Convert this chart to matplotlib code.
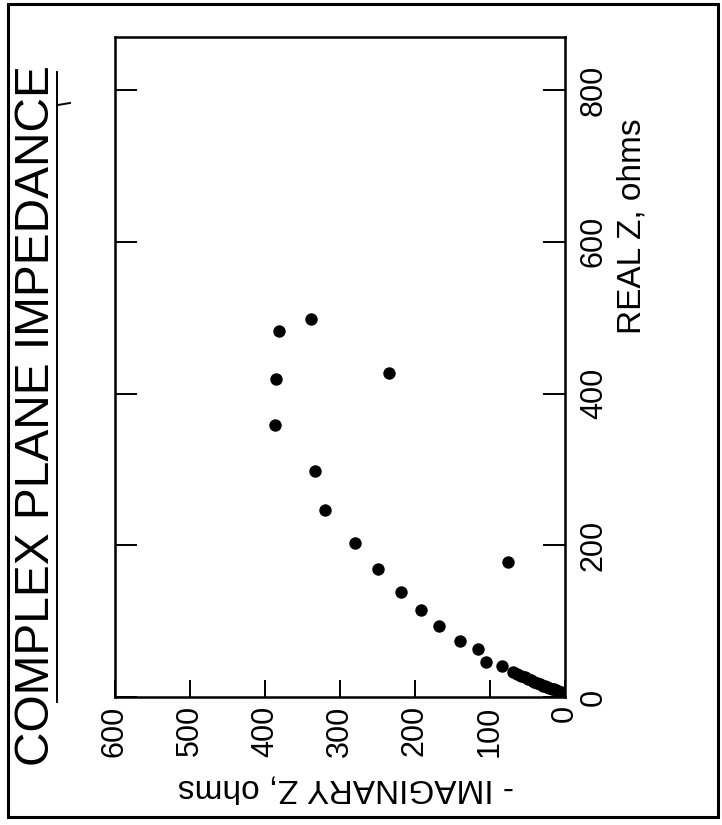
import matplotlib
matplotlib.use("Agg")
import matplotlib.pyplot as plt
from matplotlib.lines import Line2D
from matplotlib.patches import Rectangle

plt.rcParams['font.family'] = ['Liberation Sans', 'DejaVu Sans']

# Impedance data (ohms): real part and negative imaginary part
real_z = [498, 482, 419, 427, 359, 298, 247, 203, 178, 169, 138, 115, 93, 74,
          63, 46, 41,
          33, 30, 28, 26, 24, 22, 20, 19, 17, 15, 14, 13, 12, 11, 10, 9, 8, 7,
          6, 5, 4, 3]
neg_imag_z = [339, 381, 386, 235, 387, 333, 320, 280, 76, 249, 219, 192, 168,
              140, 116, 105, 84,
              69, 64, 59, 54, 50, 46, 42, 38, 34, 30, 27, 24, 21, 18, 15, 12,
              10, 8, 6, 4, 3, 2]

imag_ticks = [0, 100, 200, 300, 400, 500, 600]
real_ticks = [0, 200, 400, 600, 800]

title = "COMPLEX PLANE IMPEDANCE"
real_label = "REAL Z, ohms"
imag_label = "- IMAGINARY Z, ohms"

W, H = 722, 825
fig = plt.figure(figsize=(W / 100, H / 100), dpi=100)

# Plot frame in pixel coordinates
left, right, top, bottom = 115, 565, 37, 697
ax = fig.add_axes([left / W, 1 - bottom / H, (right - left) / W, (bottom - top) / H])

# Chart is laid out turned a quarter turn: real axis runs upward,
# imaginary axis runs leftward
ax.scatter(neg_imag_z, real_z, s=80, color='black', linewidths=0, zorder=3)
ax.set_xlim(600, 0)
ax.set_ylim(0, 870)

for sp in ax.spines.values():
    sp.set_linewidth(1.8)
    sp.set_color('black')

ax.set_xticks(imag_ticks)
ax.set_xticklabels([str(v) for v in imag_ticks], rotation=90, fontsize=22)
ax.tick_params(axis='x', direction='in', length=12, width=1.4, pad=6,
               top=False, bottom=True)

ax.set_yticks(real_ticks)
ax.set_yticklabels([str(v) for v in real_ticks], rotation=90, fontsize=22,
                   va='center')
ax.tick_params(axis='y', direction='in', length=16, width=1.4, pad=10,
               left=True, right=True, labelleft=False, labelright=True)

# Axis titles
fig.text(632 / W, 1 - 226 / H, real_label, fontsize=24, rotation=90,
         ha='center', va='center')
fig.text(346 / W, 1 - 788 / H, imag_label, fontsize=24, rotation=180,
         ha='center', va='center')

# Title with underline along its side
fig.text(37 / W, 1 - 416 / H, title, rotation=90, fontsize=34.5,
         ha='center', va='center')
fig.add_artist(Line2D([57 / W, 57 / W], [1 - 72 / H, 1 - 702 / H],
                      transform=fig.transFigure, color='black', lw=1.4))
fig.add_artist(Line2D([58 / W, 70 / W], [1 - 105 / H, 1 - 103 / H],
                      transform=fig.transFigure, color='black', lw=1.4))

# Outer border
fig.add_artist(Rectangle((8 / W, 1 - 817 / H), 710 / W, 813 / H,
                         transform=fig.transFigure, fill=False,
                         edgecolor='black', lw=2.2))

fig.savefig("out.png", dpi=100, facecolor='white')
